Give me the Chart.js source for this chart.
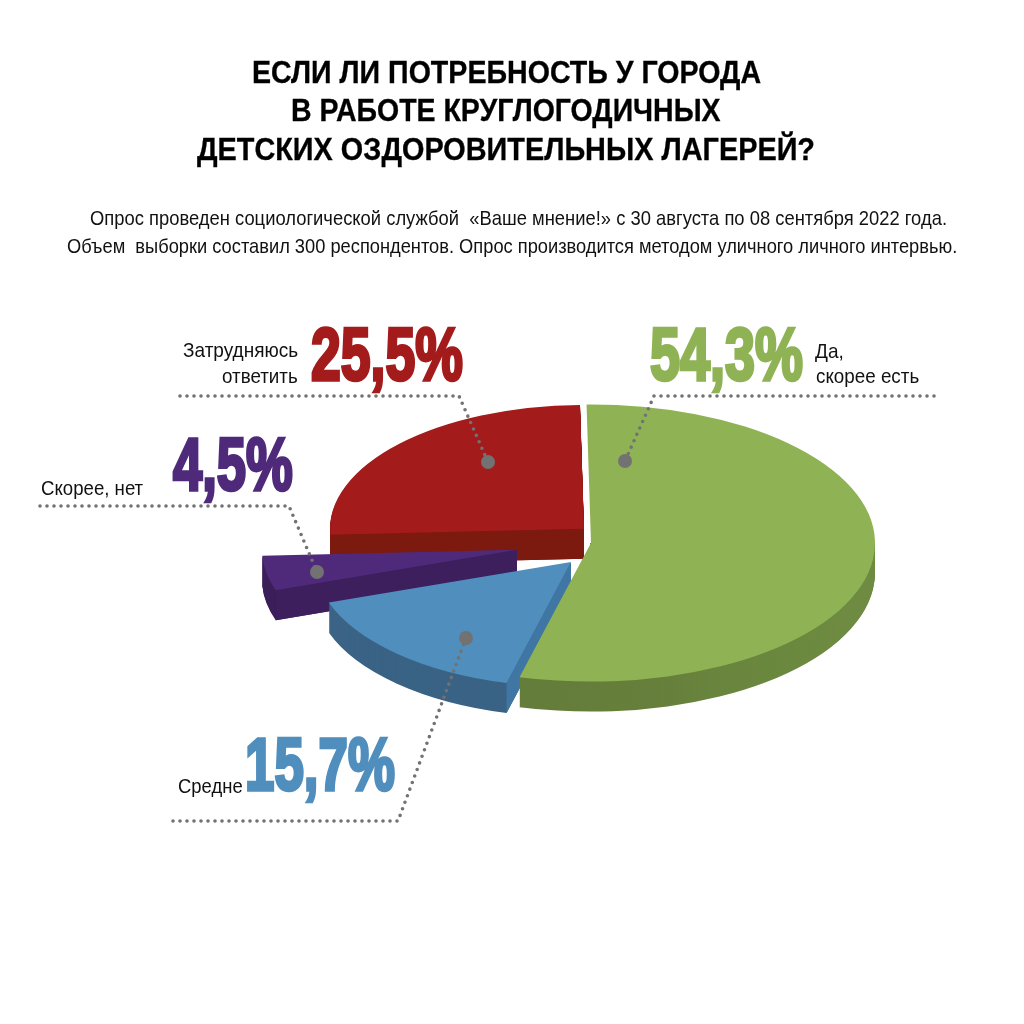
<!DOCTYPE html>
<html lang="ru">
<head>
<meta charset="utf-8">
<title>Опрос</title>
<script src="https://cdn.jsdelivr.net/npm/chart.js@4"></script>
<style>
    html, body { margin: 0; padding: 0; background: #fff; }
    #stage { position: relative; width: 1024px; height: 1024px; overflow: hidden; }
    #pie { position: absolute; left: 0; top: 0; }
    .txt { position: absolute; white-space: pre; line-height: 1; transform-origin: 0 0; font-family: "Liberation Sans", sans-serif; color: #111; }
</style>
</head>
<body>
<div id="stage"><canvas id="pie" width="1024" height="1024"></canvas></div>
<script>
// data, clockwise from the top of the pie
const categories = ['Да, скорее есть', 'Средне', 'Скорее, нет', 'Затрудняюсь ответить'];
const shares = [54.3, 15.7, 4.5, 25.5];

const titleLines = ['ЕСЛИ ЛИ ПОТРЕБНОСТЬ У ГОРОДА', 'В РАБОТЕ КРУГЛОГОДИЧНЫХ', 'ДЕТСКИХ ОЗДОРОВИТЕЛЬНЫХ ЛАГЕРЕЙ?'];
const noteLines = [
    'Опрос проведен социологической службой  «Ваше мнение!» с 30 августа по 08 сентября 2022 года.',
    'Объем  выборки составил 300 респондентов. Опрос производится методом уличного личного интервью.'
];

// slice look
const topColors = ['#8fb354', '#4f8ebd', '#4f2a7b', '#a31b1b'];
const wallColors = ['#6b883f', '#3a6385', '#3c1e5a', '#7c1a10'];
const cutColors = [null, '#3f76a3', '#3e1f5d', '#7c1a10'];
const sliceRadius = [284, 256, 255, 254];
const sliceShift = [[0, 0], [-20, 39], [-74, 14], [-7, -29]];
const wallOrder = [3, 2, 1, 0];

const SQUASH = 0.488;
const CENTER_Y = 543;
const DEPTH = 30;

function greenWall(ctx) {
    const g = ctx.createLinearGradient(522, 0, 875, 0);
    const facets = [[522, '#647d3a'], [558, '#647d3a'], [657, '#667f3b'], [733, '#6a863e'], [792, '#6b883f'], [842, '#6e8b41'], [875, '#6e8b41']];
    facets.forEach(f => g.addColorStop((f[0] - 522) / 353, f[1]));
    return g;
}

function squash(ctx, dy) {
    ctx.translate(0, CENTER_Y + dy);
    ctx.scale(1, SQUASH);
    ctx.translate(0, -CENTER_Y);
}

const pie3d = {
    id: 'pie3d',
    afterDatasetUpdate(chart) {
        chart.getDatasetMeta(0).data.forEach((arc, i) => {
            arc.x += sliceShift[i][0];
            arc.y += sliceShift[i][1];
            arc.outerRadius = sliceRadius[i];
        });
    },
    beforeDatasetDraw(chart) {
        const ctx = chart.ctx;
        const arcs = chart.getDatasetMeta(0).data;
        wallOrder.forEach(i => {
            const arc = arcs[i];
            const saved = arc.options;
            arc.options = Object.assign({}, saved, { backgroundColor: i === 0 ? greenWall(ctx) : wallColors[i] });
            ctx.save();
            if (i === 0) {
                // the big slice only shows its wall on the front half
                ctx.beginPath();
                ctx.rect(0, CENTER_Y, chart.width, chart.height - CENTER_Y);
                ctx.clip();
            }
            for (let d = DEPTH; d >= 1; d--) {
                ctx.save();
                squash(ctx, d);
                arc.draw(ctx);
                ctx.restore();
            }
            ctx.restore();
            arc.options = saved;
            if (cutColors[i]) {
                const rimX = arc.x + Math.cos(arc.startAngle) * arc.outerRadius;
                const rimY = arc.y + Math.sin(arc.startAngle) * arc.outerRadius;
                ctx.save();
                squash(ctx, 0);
                ctx.fillStyle = cutColors[i];
                ctx.beginPath();
                ctx.moveTo(arc.x, arc.y);
                ctx.lineTo(rimX, rimY);
                ctx.lineTo(rimX, rimY + DEPTH / SQUASH);
                ctx.lineTo(arc.x, arc.y + DEPTH / SQUASH);
                ctx.closePath();
                ctx.fill();
                ctx.restore();
            }
        });
        ctx.save();
        squash(ctx, 0);
    },
    afterDatasetDraw(chart) {
        chart.ctx.restore();
        drawLeaders(chart.ctx);
    }
};

// dotted callouts: from the label out to the elbow, then to the dot on the slice
const leaders = [
    [[934, 396], [654, 396], [625, 461]],
    [[173, 821], [398, 821], [466, 638]],
    [[40, 506], [289, 506], [317, 572]],
    [[180, 396], [459, 396], [488, 462]]
];

function drawLeaders(ctx) {
    ctx.save();
    ctx.strokeStyle = '#727272';
    ctx.fillStyle = '#727272';
    ctx.lineWidth = 3.6;
    ctx.lineCap = 'round';
    ctx.setLineDash([0, 7]);
    leaders.forEach(pts => {
        ctx.beginPath();
        ctx.moveTo(pts[0][0], pts[0][1]);
        ctx.lineTo(pts[1][0], pts[1][1]);
        ctx.lineTo(pts[2][0], pts[2][1]);
        ctx.stroke();
        ctx.beginPath();
        ctx.arc(pts[2][0], pts[2][1], 7, 0, Math.PI * 2);
        ctx.fill();
    });
    ctx.restore();
}

new Chart(document.getElementById('pie'), {
    type: 'pie',
    plugins: [pie3d],
    data: {
        labels: categories,
        datasets: [{
            data: shares,
            backgroundColor: topColors,
            borderWidth: 0,
            clip: false
        }]
    },
    options: {
        responsive: false,
        animation: false,
        rotation: -0.9,
        radius: 255,
        layout: { padding: { left: 158, top: 62 } },
        plugins: { legend: { display: false }, tooltip: { enabled: false } },
        events: []
    }
});

// text is fitted to its measured width in the original, narrow grotesque look
function addText(text, left, right, baseline, size, opts) {
    opts = opts || {};
    const el = document.createElement('div');
    el.className = 'txt';
    el.textContent = text;
    el.style.fontSize = size + 'px';
    el.style.fontWeight = opts.bold ? '700' : '400';
    el.style.top = (baseline - size * 0.8465) + 'px';
    el.style.left = left + 'px';
    if (opts.color) el.style.color = opts.color;
    if (opts.stroke) el.style.webkitTextStroke = opts.stroke + 'px ' + opts.color;
    document.getElementById('stage').appendChild(el);
    el.style.transform = 'scaleX(' + ((right - left) / el.offsetWidth) + ')';
}

addText(titleLines[0], 252, 761, 83, 31, { bold: true, color: '#000', stroke: 0.3 });
addText(titleLines[1], 291, 721, 121, 31, { bold: true, color: '#000', stroke: 0.3 });
addText(titleLines[2], 197, 815, 160, 31, { bold: true, color: '#000', stroke: 0.3 });
addText(noteLines[0], 90, 947, 225, 21);
addText(noteLines[1], 67, 957, 253, 21);

addText('Да,', 815, 844, 358, 21);
addText('скорее есть', 816, 919, 383, 21);
addText('Затрудняюсь', 183, 298, 357, 21);
addText('ответить', 222, 298, 383, 21);
addText('Скорее, нет', 41, 143, 495, 21);
addText('Средне', 178, 243, 793, 21);

const percent = v => v.toFixed(1).replace('.', ',') + '%';
const bigLabels = [[650, 803, 381], [245, 395, 791], [173, 293, 491], [311, 463, 381]];
shares.forEach((v, i) => {
    const b = bigLabels[i];
    addText(percent(v), b[0], b[1], b[2], 74, { bold: true, color: topColors[i], stroke: 3.5 });
});
</script>
</body>
</html>
